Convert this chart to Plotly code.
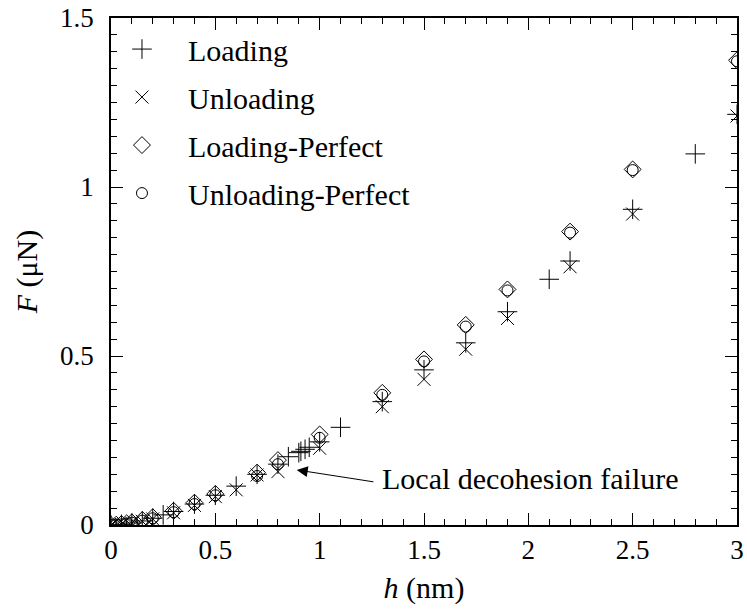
import plotly.graph_objects as go

# ---- data ----
load_h = [0, 0.05, 0.1, 0.15, 0.2, 0.25, 0.3, 0.4, 0.5, 0.6, 0.7, 0.8, 0.85,
          0.9, 0.91, 0.93, 0.95, 1.0, 1.1, 1.3, 1.5, 1.7, 1.9, 2.1, 2.2, 2.5, 2.8, 3.0]
load_F = [0, 0.002, 0.006, 0.012, 0.02, 0.03, 0.04, 0.062, 0.088, 0.115, 0.15, 0.18, 0.202,
          0.214, 0.218, 0.224, 0.23, 0.246, 0.289, 0.365, 0.459, 0.539, 0.631, 0.727, 0.781,
          0.934, 1.098, 1.215]

unload_h = [0, 0.05, 0.1, 0.15, 0.2, 0.3, 0.4, 0.5, 0.6, 0.7, 0.8, 1.0, 1.3, 1.5, 1.7,
            1.9, 2.2, 2.5, 3.0]
unload_F = [0, 0.002, 0.005, 0.011, 0.018, 0.036, 0.058, 0.084, 0.104, 0.148, 0.158, 0.227,
            0.35, 0.431, 0.52, 0.611, 0.764, 0.92, 1.21]

perf_h = [0, 0.025, 0.05, 0.075, 0.1, 0.15, 0.2, 0.3, 0.4, 0.5, 0.7, 0.8, 1.0, 1.3, 1.5,
          1.7, 1.9, 2.2, 2.5, 3.0]
load_perf_F = [0, 0.001, 0.003, 0.005, 0.008, 0.015, 0.023, 0.042, 0.066, 0.092, 0.155,
               0.192, 0.268, 0.391, 0.49, 0.592, 0.697, 0.868, 1.052, 1.375]
unload_perf_F = [0, 0.001, 0.002, 0.004, 0.007, 0.013, 0.02, 0.038, 0.062, 0.088, 0.145,
                 0.18, 0.258, 0.385, 0.484, 0.587, 0.694, 0.865, 1.05, 1.372]

x_ticks = [0, 0.5, 1, 1.5, 2, 2.5, 3]
x_tick_labels = ["0", "0.5", "1", "1.5", "2", "2.5", "3"]
y_ticks = [0, 0.5, 1, 1.5]
y_tick_labels = ["0", "0.5", "1", "1.5"]

FONT = "Liberation Serif"

fig = go.Figure()
series = [
    ("Loading", load_h, load_F, "cross-thin-open", 14),
    ("Unloading", unload_h, unload_F, "x-thin-open", 13),
    ("Loading-Perfect", perf_h, load_perf_F, "diamond-open", 13),
    ("Unloading-Perfect", perf_h, unload_perf_F, "circle-open", 11),
]
for i, (name, xs, ys, sym, sz) in enumerate(series):
    fig.add_trace(go.Scatter(
        x=xs, y=ys, mode="markers", name=name, legendgroup=f"g{i}",
        marker=dict(symbol=sym, size=sz, color="black",
                    line=dict(color="black", width=1)),
    ))

axis_common = dict(
    showline=True, linecolor="black", linewidth=1.5, mirror="ticks",
    ticks="inside", ticklen=12, tickwidth=1, tickcolor="black",
    showgrid=False, zeroline=False, automargin=False,
    tickfont=dict(family=FONT, size=27, color="black"),
)

fig.update_xaxes(
    range=[0, 3], tickvals=x_ticks, ticktext=x_tick_labels,
    minor=dict(ticks="inside", dtick=0.1, tick0=0, ticklen=6, tickcolor="black", tickwidth=1),
    title=dict(text="<i>h</i> (nm)", font=dict(family=FONT, size=30, color="black"), standoff=13),
    **axis_common,
)
fig.update_yaxes(
    range=[0, 1.5], tickvals=y_ticks, ticktext=y_tick_labels,
    minor=dict(ticks="inside", dtick=0.05, tick0=0, ticklen=6, tickcolor="black", tickwidth=1),
    title=dict(text="<i>F</i> (μN)", font=dict(family=FONT, size=30, color="black"), standoff=14),
    ticklabelstandoff=10,
    **axis_common,
)

# arrow + label
fig.add_annotation(
    x=0.89, y=0.163, ax=1.265, ay=0.127, xref="x", yref="y", axref="x", ayref="y",
    text="", showarrow=True, arrowhead=2, arrowsize=2.2, arrowwidth=1, arrowcolor="black",
    standoff=0,
)
fig.add_annotation(
    x=1.29, y=0.139, xref="x", yref="y", text="Local decohesion failure",
    showarrow=False, xanchor="left", yanchor="middle",
    font=dict(family=FONT, size=30, color="black"),
)

fig.update_layout(
    width=747, height=611,
    margin=dict(l=111, r=10, t=18, b=86),
    paper_bgcolor="white", plot_bgcolor="white",
    showlegend=True,
    legend=dict(
        x=-0.024, y=0.99, xanchor="left", yanchor="top",
        bgcolor="rgba(0,0,0,0)", borderwidth=0,
        font=dict(family=FONT, size=30, color="black"),
        tracegroupgap=6, itemwidth=82,
    ),
    font=dict(family=FONT, color="black"),
)

fig.write_html("out.html")
